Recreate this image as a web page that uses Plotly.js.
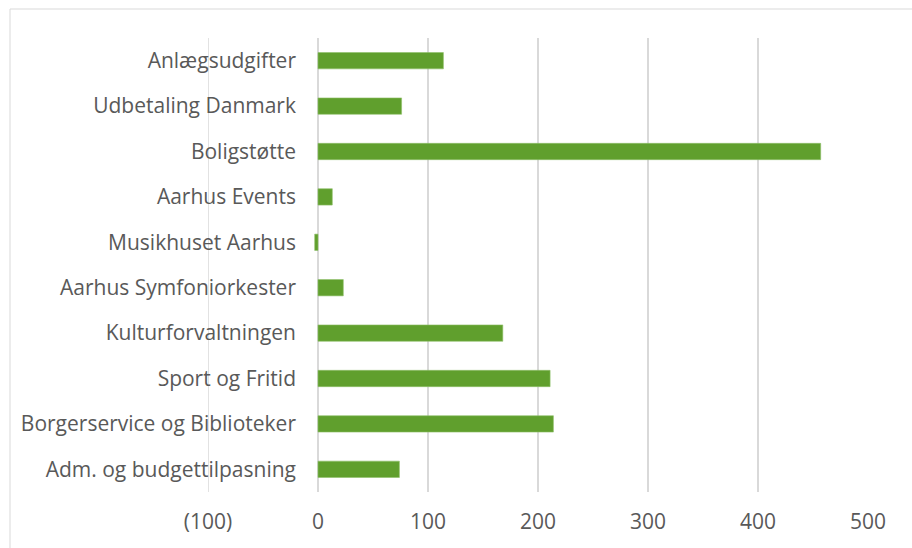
<!DOCTYPE html>
<html>
<head>
<meta charset="utf-8">
<script src="https://cdn.plot.ly/plotly-3.0.1.min.js"></script>
<style>html,body{margin:0;padding:0;background:#fff;}#chart{width:912px;height:548px;}</style>
</head>
<body>
<div id="chart"></div>
<script>
const categories = ["Adm. og budgettilpasning","Borgerservice og Biblioteker","Sport og Fritid","Kulturforvaltningen","Aarhus Symfoniorkester","Musikhuset Aarhus","Aarhus Events","Boligstøtte","Udbetaling Danmark","Anlægsudgifter"];
const values = [74, 214, 211, 168, 23, -3, 13, 457, 76, 114];
const xTickVals = [-100, 0, 100, 200, 300, 400, 500];
const xTickText = ["(100)", "0", "100", "200", "300", "400", "500"];

const font = {family: "'Open Sans', sans-serif", size: 21, color: "#595959"};

Plotly.newPlot("chart", [{
  type: "bar",
  orientation: "h",
  y: categories,
  x: values,
  marker: {color: "#609f2d", line: {color: "#8fbf6a", width: 0.6}},
  hoverinfo: "x+y"
}], {
  width: 912, height: 548,
  margin: {l: 208, r: 44, t: 38, b: 56},
  paper_bgcolor: "#ffffff",
  plot_bgcolor: "#ffffff",
  bargap: 0.64,
  showlegend: false,
  font: font,
  xaxis: {
    range: [-100, 500],
    tickvals: xTickVals,
    ticktext: xTickText,
    showgrid: true,
    gridcolor: "#d9d9d9",
    gridwidth: 1.5,
    zeroline: true,
    zerolinecolor: "#d9d9d9",
    zerolinewidth: 1.5,
    showline: false,
    ticks: "",
    ticklabelstandoff: 15,
    tickfont: font,
    fixedrange: true
  },
  yaxis: {
    type: "category",
    anchor: "free",
    position: 110/660,
    showgrid: false,
    zeroline: false,
    showline: false,
    ticks: "",
    ticklabelstandoff: 22,
    tickfont: font,
    fixedrange: true
  },
  shapes: [{
    type: "rect", xref: "paper", yref: "paper",
    x0: -198/660, x1: 2, y0: -2, y1: 1 + 29/454,
    line: {color: "#d9d9d9", width: 1}, fillcolor: "rgba(0,0,0,0)", layer: "below"
  }, {
    type: "line", xref: "x", yref: "paper",
    x0: xTickVals[0], x1: xTickVals[0], y0: 0, y1: 1,
    line: {color: "#d9d9d9", width: 1.5}, layer: "below"
  }]
}, {displayModeBar: false, staticPlot: true});
</script>
</body>
</html>
